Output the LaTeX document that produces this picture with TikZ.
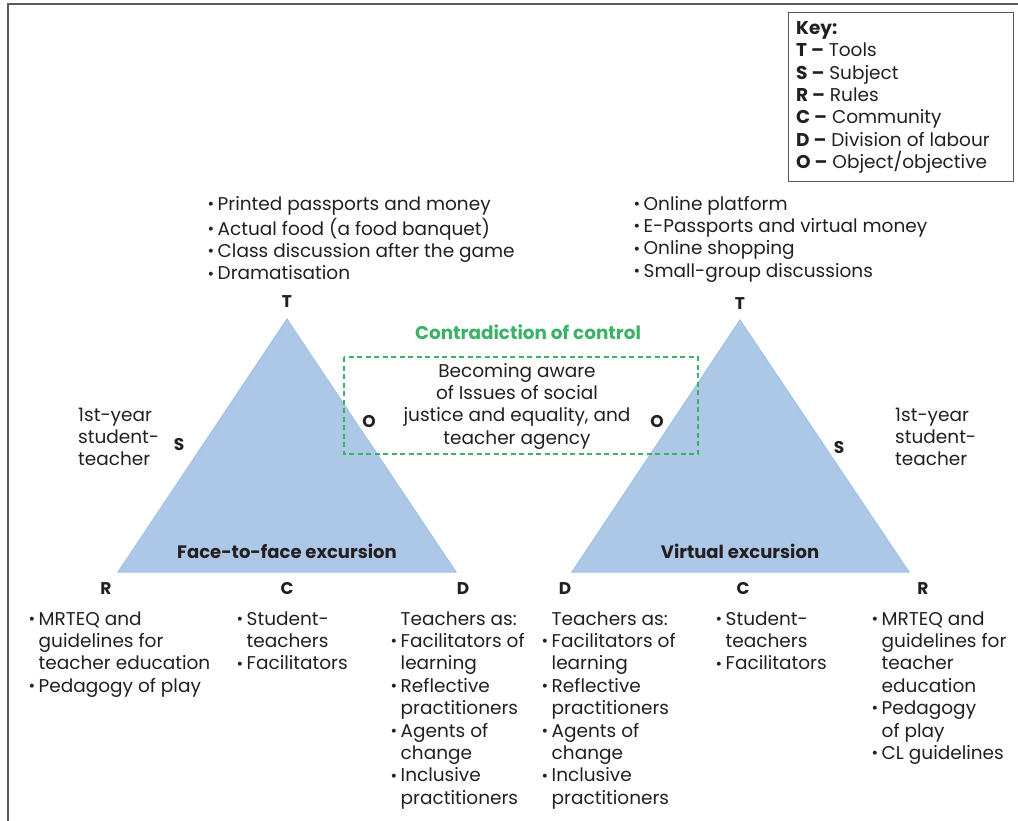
\documentclass[tikz,border=0pt]{standalone}
\usepackage{fontspec}
\setmainfont{Poppins}
\definecolor{ink}{HTML}{231F20}
\definecolor{frame}{HTML}{5A5A5A}
\definecolor{trifill}{HTML}{ADC7E6}
\definecolor{triedge}{HTML}{9DC3E8}
\definecolor{contra}{HTML}{3BB265}
\newcommand{\lstfont}{\fontsize{18.5}{22.4}\selectfont}
% small list bullet in a fixed-width hanging box
\newcommand{\bl}{\makebox[8.5pt][l]{\hspace*{-1.5pt}\raisebox{0.8pt}{\fontsize{16}{16}\selectfont •}}}
\newcommand{\cl}{\hspace*{8.5pt}}
\tikzset{
  lst/.style={anchor=north west, inner sep=0pt, align=left, font=\lstfont, text=ink},
  ctr/.style={anchor=north, inner sep=0pt, align=center, font=\lstfont, text=ink},
  vtx/.style={inner sep=0pt, font=\fontsize{17}{20}\selectfont\bfseries, text=ink},
  tri/.style={fill=trifill, draw=triedge, line width=1pt, line join=miter},
  ttl/.style={inner sep=0pt, font=\fontsize{18}{22}\selectfont\bfseries, text=ink}
}
\begin{document}
\begin{tikzpicture}[x=1pt, y=-1pt]
\useasboundingbox (0,0) rectangle (1018,821);
% outer frame: top and left edges
\draw[frame, line width=1.6pt] (8,821) -- (8,4) -- (1018,4);

% key
\node[draw=frame, line width=0.8pt, minimum width=225pt, minimum height=169pt, anchor=north west] (keybox) at (788,12) {};
\node[lst] (key) at (796,18.5) {\strut\textbf{Key:}\\
\textbf{T –} Tools\\
\textbf{S –} Subject\\
\textbf{R –} Rules\\
\textbf{C –} Community\\
\textbf{D –} Division of labour\\
\textbf{O –} Object/objective};

% triangles
\coordinate (lT) at (287,319);
\coordinate (lR) at (118,572);
\coordinate (lD) at (456,572);
\coordinate (rT) at (740,320);
\coordinate (rD) at (572,572);
\coordinate (rR) at (909,572);
\draw[tri] (lT) -- (lR) -- (lD) -- cycle;
\draw[tri] (rT) -- (rD) -- (rR) -- cycle;
\node[ttl] (lttl) at (287,551) {Face-to-face excursion};
\node[ttl] (rttl) at (740,551) {Virtual excursion};

% contradiction box
\draw[contra, line width=2pt, dash pattern=on 5pt off 3.5pt] (344,357) rectangle (698,454);
\node[inner sep=0pt, font=\fontsize{18.4}{22}\selectfont\bfseries, text=contra] (contr) at (528,332) {Contradiction of control};
\node[ctr] (obj) at (517,361.3) {\strut Becoming aware\\ of Issues of social\\ justice and equality, and\\ teacher agency};

% vertex letters
\node[vtx] (vTl) at (287,302) {T};
\node[vtx] (vSl) at (179,445) {S};
\node[vtx] (vOl) at (369,422) {O};
\node[vtx] (vRl) at (106,589) {R};
\node[vtx] (vCl) at (287,589) {C};
\node[vtx] (vDl) at (463,589) {D};
\node[vtx] (vTr) at (740,304) {T};
\node[vtx] (vOr) at (657,422) {O};
\node[vtx] (vSr) at (839,448) {S};
\node[vtx] (vDr) at (565,589) {D};
\node[vtx] (vCr) at (743,589) {C};
\node[vtx] (vRr) at (923,589) {R};

% subjects
\node[lst] (subjl) at (78,405.3) {\strut 1st-year\\ student-\\ teacher};
\node[lst] (subjr) at (895,405.3) {\strut 1st-year\\ student-\\ teacher};

% tools
\node[lst] (tooll) at (209,194.3) {\strut\bl Printed passports and money\\
\bl Actual food (a food banquet)\\
\bl Class discussion after the game\\
\bl Dramatisation};
\node[lst] (toolr) at (635,194.3) {\strut\bl Online platform\\
\bl E-Passports and virtual money\\
\bl Online shopping\\
\bl Small-group discussions};

% rules, community, division of labour (face-to-face)
\node[lst] (rulel) at (30,609.3) {\strut\bl MRTEQ and\\
\cl guidelines for\\
\cl teacher education\\
\bl Pedagogy of play};
\node[lst] (comml) at (238,609.3) {\strut\bl Student-\\
\cl teachers\\
\bl Facilitators};
\node[lst] (divl) at (392,609.3) {\strut\cl Teachers as:\\
\bl Facilitators of\\
\cl learning\\
\bl Reflective\\
\cl practitioners\\
\bl Agents of\\
\cl change\\
\bl Inclusive\\
\cl practitioners};

% division of labour, community, rules (virtual)
\node[lst] (divr) at (543,609.3) {\strut\cl Teachers as:\\
\bl Facilitators of\\
\cl learning\\
\bl Reflective\\
\cl practitioners\\
\bl Agents of\\
\cl change\\
\bl Inclusive\\
\cl practitioners};
\node[lst] (commr) at (717,609.3) {\strut\bl Student-\\
\cl teachers\\
\bl Facilitators};
\node[lst] (ruler) at (873,609.3) {\strut\bl MRTEQ and\\
\cl guidelines for\\
\cl teacher\\
\cl education\\
\bl Pedagogy\\
\cl of play\\
\bl CL guidelines};
\end{tikzpicture}
\end{document}
